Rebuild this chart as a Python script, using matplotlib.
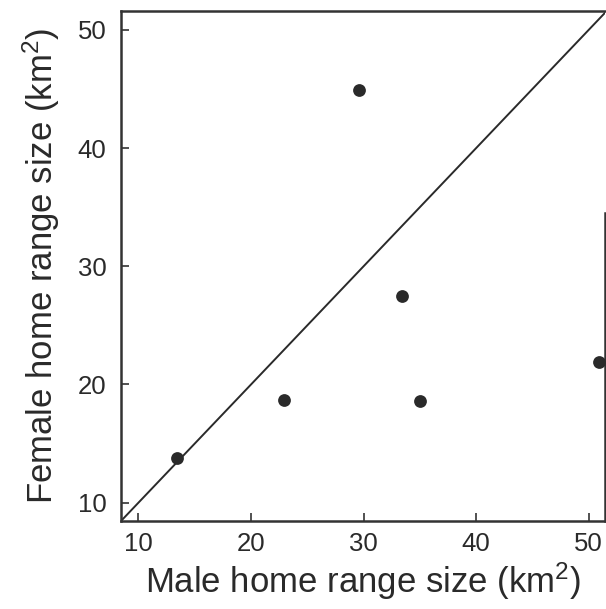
import matplotlib
matplotlib.use("Agg")
import matplotlib.pyplot as plt

# home range sizes (km^2)
male_range = [13.4, 22.9, 29.6, 33.4, 35.0, 50.9]
female_range = [13.8, 18.7, 44.9, 27.5, 18.6, 21.9]

x_ticks = [10, 20, 30, 40, 50]
y_ticks = [10, 20, 30, 40, 50]
x_lim = (8.45, 51.45)
y_lim = (8.45, 51.6)

plt.rcParams['font.family'] = ['Liberation Sans', 'DejaVu Sans']
plt.rcParams['mathtext.fontset'] = 'custom'
plt.rcParams['mathtext.rm'] = 'Liberation Sans'
plt.rcParams['mathtext.it'] = 'Liberation Sans'

ink = '#2a2a2a'

fig = plt.figure(figsize=(6.06, 6.09), dpi=100)
ax = fig.add_axes([121 / 606, 1 - 521 / 609, 484 / 606, 510 / 609])

# 1:1 line
lo = min(x_lim[0], y_lim[0])
hi = max(x_lim[1], y_lim[1])
ax.plot([lo, hi], [lo, hi], color=ink, lw=1.4, zorder=2)

ax.plot(male_range, female_range, 'o', color=ink, ms=9.2, mec='none', zorder=3)

ax.set_xlim(*x_lim)
ax.set_ylim(*y_lim)
ax.set_xticks(x_ticks)
ax.set_yticks(y_ticks)

for side in ['left', 'bottom', 'top', 'right']:
    ax.spines[side].set_linewidth(1.8)
    ax.spines[side].set_color('#333333')
# the right frame line only shows on the lower part in the original
ax.spines['right'].set_bounds(y_lim[0], 34.5)

ax.tick_params(direction='in', length=6, width=1.2, color='#333333',
               labelsize=18.5, labelcolor=ink)
ax.tick_params(axis='x', pad=8)
ax.tick_params(axis='y', pad=10.5)

ax.set_xlabel('Male home range size (km$^2$)', fontsize=25, color=ink, labelpad=3)
ax.set_ylabel('Female home range size (km$^2$)', fontsize=25, color=ink, labelpad=11)

plt.savefig('out.png', dpi=100)
